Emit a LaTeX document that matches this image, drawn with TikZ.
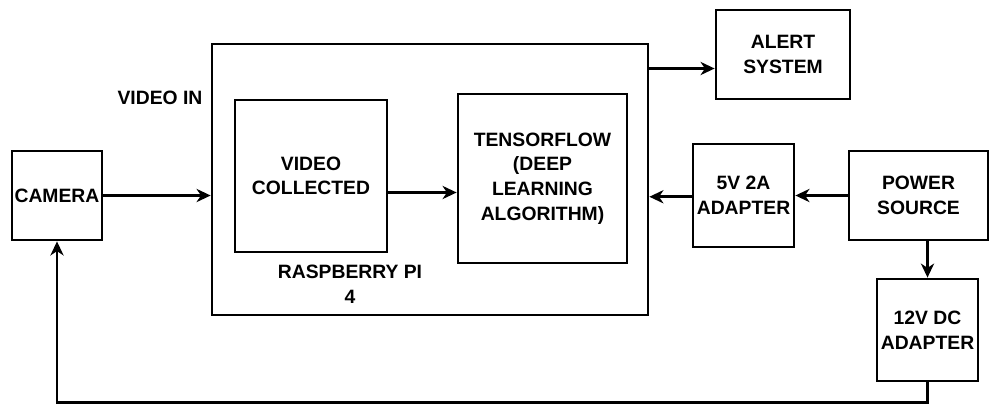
\documentclass[tikz,border=0pt]{standalone}
\usepackage{fontspec}
\setmainfont{Liberation Sans}
\usepackage{tikz}
\usetikzlibrary{arrows.meta}

\begin{document}
\begin{tikzpicture}[
    x=0.02cm, y=-0.02cm,
    font=\fontsize{11}{14}\selectfont\bfseries,
    box/.style={rectangle, draw, line width=1.6pt, inner sep=0pt, align=center},
    arrow/.style={-{Stealth[length=8pt, width=7.5pt, inset=2.5pt]}, line width=1.6pt}
]
\useasboundingbox (0,0) rectangle (1000,403);

\node[box, minimum width=1.8cm, minimum height=1.78cm] (camera) at (57,195.5) {CAMERA};
\node[box, minimum width=8.72cm, minimum height=5.42cm] (pi) at (430,179.5) {};
\node[box, minimum width=3.04cm, minimum height=3.04cm] (video) at (311,176) {VIDEO\\COLLECTED};
\node[box, minimum width=3.38cm, minimum height=3.38cm] (tf) at (542.5,178.5) {TENSORFLOW\\(DEEP\\LEARNING\\ALGORITHM)};
\node[box, minimum width=2.68cm, minimum height=1.78cm] (alert) at (783,54.5) {ALERT\\SYSTEM};
\node[box, minimum width=2.02cm, minimum height=2.06cm] (adapter5) at (743.5,195.5) {5V 2A\\ADAPTER};
\node[box, minimum width=2.78cm, minimum height=1.78cm] (power) at (918.5,195.5) {POWER\\SOURCE};
\node[box, minimum width=2.02cm, minimum height=2.04cm] (adapter12) at (927.5,330) {12V DC\\ADAPTER};

\node (videoin) at (160,98) {VIDEO IN};
\node[align=center] (pilabel) at (350,284.5) {RASPBERRY PI\\4};

\draw[arrow] (camera.east) -- (camera.east -| pi.west);
\draw[arrow] ([yshift=-0.33cm]video.east) -- ([yshift=-0.33cm]video.east -| tf.west);
\draw[arrow] ([yshift=-0.28cm]alert.west -| pi.east) -- ([yshift=-0.28cm]alert.west);
\draw[arrow] (power) -- (adapter5);
\draw[arrow] ([yshift=-0.025cm]adapter5.west) -- ([yshift=-0.025cm]adapter5.west -| pi.east);
\draw[arrow] (adapter12.north |- power.south) -- (adapter12.north);
\draw[arrow] (adapter12.south) -- ++(0,20) -| (camera.south);
\end{tikzpicture}
\end{document}
